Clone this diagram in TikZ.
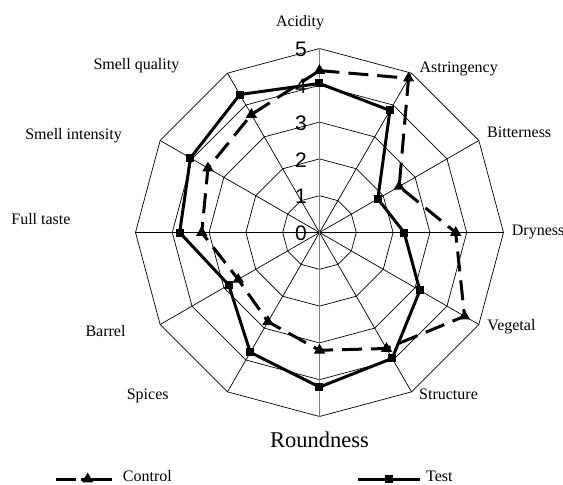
\documentclass[tikz,border=0pt]{standalone}
\usepackage{fontspec}
\setmainfont{Liberation Serif}
\newfontfamily\numfont{Liberation Sans}
\usetikzlibrary{shapes.geometric}

\begin{document}
\begin{tikzpicture}[x=1pt,y=1pt,
    grid/.style={black,line width=0.7pt},
    testline/.style={black,line width=3pt},
    ctrlline/.style={black,line width=3pt,dash pattern=on 20pt off 9pt},
    sqmark/.style={rectangle,fill=black,minimum size=8pt,inner sep=0pt},
    trimark/.style={regular polygon,regular polygon sides=3,fill=black,minimum size=13pt,inner sep=0pt},
    axlabel/.style={font=\fontsize{16}{19}\selectfont,inner sep=0pt},
    numlabel/.style={font=\numfont\fontsize{21}{24}\selectfont,inner sep=0pt}]
\def\u{36.8}
\useasboundingbox (-319.5,-252.5) rectangle (243.5,232.5);

\foreach \k in {1,...,5}
    \draw[grid] (0:{\k*\u}) \foreach \a in {30,60,...,330} { -- (\a:{\k*\u}) } -- cycle;
\foreach \a in {0,30,60,120,150,180,210,240,300,330}
    \draw[grid] (0,0) -- (\a:{5*\u});
\draw[gray,line width=1.1pt] (90:{5*\u}) -- (270:{5*\u});

\foreach \k in {0,...,5}
    \node[numlabel] (num\k) at (-18.5,{\k*\u-1}) {\k};

\node[axlabel,anchor=base] (acidity) at (-19.5,205.5) {Acidity};
\node[axlabel,anchor=base west] (astringency) at (99.9,159.5) {Astringency};
\node[axlabel,anchor=base west] (bitterness) at (167.5,94.5) {Bitterness};
\node[axlabel,anchor=base west] (dryness) at (192.2,-2.5) {Dryness};
\node[axlabel,anchor=base west] (vegetal) at (167.8,-97.5) {Vegetal};
\node[axlabel,anchor=base west] (structure) at (99.5,-166.5) {Structure};
\node[font=\fontsize{22.5}{26}\selectfont,inner sep=0pt,anchor=base] (roundness) at (0,-214.8) {Roundness};
\node[axlabel,anchor=base east] (spices) at (-150.7,-166.5) {Spices};
\node[axlabel,anchor=base east] (barrel) at (-193.8,-103.5) {Barrel};
\node[axlabel,anchor=base east] (fulltaste) at (-248.8,8.5) {Full taste};
\node[axlabel,anchor=base east] (smellint) at (-197.5,92.5) {Smell intensity};
\node[axlabel,anchor=base east] (smellqual) at (-140,162.5) {Smell quality};

\draw[ctrlline] (90:{4.4*\u}) \foreach \a/\v in {60/4.84,30/2.5,0/3.7,-30/4.55,-60/3.64,-90/3.2,-120/2.8,-150/2.55,180/3.2,150/3.5,120/3.7} { -- (\a:{\v*\u}) } -- cycle;
\foreach \a/\v [count=\i] in {90/4.4,60/4.84,30/2.5,0/3.7,-30/4.55,-60/3.64,-90/3.2,-120/2.8,-150/2.55,180/3.2,150/3.5,120/3.7}
    \node[trimark] (ctrl\i) at (\a:{\v*\u}) {};

\draw[testline] (90:{4.05*\u}) \foreach \a/\v in {60/3.83,30/1.83,0/2.3,-30/3.15,-60/3.95,-90/4.2,-120/3.76,-150/2.85,180/3.8,150/4.05,120/4.33} { -- (\a:{\v*\u}) } -- cycle;
\foreach \a/\v [count=\i] in {90/4.05,60/3.83,30/1.83,0/2.3,-30/3.15,-60/3.95,-90/4.2,-120/3.76,-150/2.85,180/3.8,150/4.05,120/4.33}
    \node[sqmark] (test\i) at (\a:{\v*\u}) {};

\coordinate (ctrlA) at (-263.5,-246.5);
\coordinate (ctrlB) at (-207.8,-246.5);
\draw[black,line width=3pt,dash pattern=on 20pt off 5pt on 40pt off 0pt] (ctrlA) -- (ctrlB);
\node[trimark] (ctrlkey) at (-231.8,-246.5) {};
\node[axlabel,anchor=base west] (ctrltext) at (-196.8,-248.5) {Control};

\coordinate (testA) at (38.5,-246.5);
\coordinate (testB) at (100.5,-246.5);
\draw[testline] (testA) -- (testB);
\node[sqmark] (testkey) at (69.5,-246.5) {};
\node[axlabel,anchor=base west] (testtext) at (106.5,-249.2) {Test};
\end{tikzpicture}
\end{document}
